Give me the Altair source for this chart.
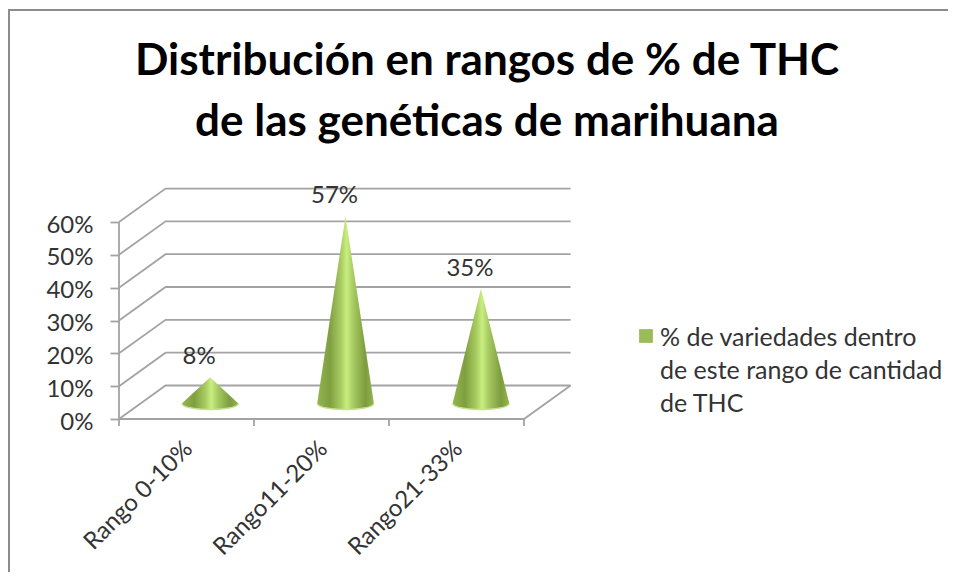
import altair as alt
import pandas as pd

categories = ["Rango 0-10%", "Rango11-20%", "Rango21-33%"]
values = [8, 57, 35]
grid_values = [0, 10, 20, 30, 40, 50, 60]
tick_positions = [0, 1, 2, 3]
title_lines = ["Distribución en rangos de % de THC", "de las genéticas de marihuana"]
legend_text = "% de variedades dentro\nde este rango de cantidad\nde THC"

DEPTH_X, DEPTH_Y = 0.345, 10.2
CONE_X, CONE_Y = 0.175, 4.7
BASE_RX, BASE_RY = 0.21, 1.8
FONT = "Lato"
GREY = "#a3a3a3"
TEXT = "#333333"

xs = alt.Scale(domain=[0, 3.363], nice=False, zero=False)
ys = alt.Scale(domain=[0, 70.36], nice=False, zero=False)

x_axis = alt.Axis(
    values=[0.5, 1.5, 2.5], grid=False, domain=False, ticks=False, title=None,
    labelAngle=-45, labelAlign="right", labelBaseline="middle", labelPadding=26, labelOffset=2,
    labelExpr="['" + "','".join(categories) + "'][floor(datum.value)]",
    labelFont=FONT, labelFontSize=24, labelColor=TEXT, labelOverlap=False, labelBound=False,
    labelFlush=False)
y_axis = alt.Axis(
    values=grid_values, grid=False, domain=False, tickSize=9, tickColor=GREY, tickWidth=1.8, title=None,
    labelPadding=17, labelExpr="datum.value + '%'", labelFont=FONT, labelFontSize=24,
    labelColor=TEXT, labelOffset=3, labelOverlap=False, labelBound=False, labelFlush=False)

rows = []
for v in grid_values:
    rows += [
        dict(g=f"g{v}", o=0, x=0, y=v),
        dict(g=f"g{v}", o=1, x=DEPTH_X, y=v + DEPTH_Y),
        dict(g=f"g{v}", o=2, x=3 + DEPTH_X, y=v + DEPTH_Y),
    ]
rows += [dict(g="axisY", o=0, x=0, y=0), dict(g="axisY", o=1, x=0, y=60)]
rows += [dict(g="front", o=0, x=0, y=0), dict(g="front", o=1, x=3, y=0),
         dict(g="front", o=2, x=3 + DEPTH_X, y=DEPTH_Y)]
box = pd.DataFrame(rows)

ts = [i / 30 - 1 for i in range(61)]
cone_rows, rim_rows = [], []
for i, (c, v) in enumerate(zip(categories, values)):
    cx = i + 0.5 + CONE_X + 0.003 * i
    for t in ts:
        top = CONE_Y + v * (1 - abs(t))
        bot = CONE_Y - BASE_RY * (1 - t * t) ** 0.5
        cone_rows.append(dict(c=c, x=cx + BASE_RX * t, top=max(top, bot), bot=bot))
        rim_rows.append(dict(c=c, x=cx + BASE_RX * t, y=bot))
cones = pd.DataFrame(cone_rows)
rims = pd.DataFrame(rim_rows)
labels = pd.DataFrame({
    "x": [i + 0.5 + CONE_X + 0.003 * i for i in range(3)],
    "y": [v + CONE_Y for v in values],
    "t": [f"{v}%" for v in values],
})

X = lambda f="x": alt.X(f"{f}:Q", scale=xs, axis=x_axis)
Y = lambda f="y": alt.Y(f"{f}:Q", scale=ys, axis=y_axis)

lines = alt.Chart(box).mark_line(color=GREY, strokeWidth=1.8).encode(
    x=X(), y=Y(), detail="g:N", order="o:Q")

xticks = alt.Chart(pd.DataFrame({"x": tick_positions})).mark_rule(color=GREY, strokeWidth=1.8).encode(
    x=X(), y=alt.value(231), y2=alt.value(238))

gradient = alt.Gradient(
    gradient="linear", x1=0, y1=0, x2=1, y2=0,
    stops=[
        alt.GradientStop(offset=0, color="#93b64f"),
        alt.GradientStop(offset=0.22, color="#7f9f3f"),
        alt.GradientStop(offset=0.42, color="#a9cc62"),
        alt.GradientStop(offset=0.52, color="#c9ee80"),
        alt.GradientStop(offset=0.64, color="#a6c961"),
        alt.GradientStop(offset=0.85, color="#7d9c3e"),
        alt.GradientStop(offset=1, color="#93b64f"),
    ],
)
cone_marks = alt.Chart(cones).mark_area(color=gradient, opacity=1, interpolate="linear").encode(
    x=X(), y=Y("top"), y2=alt.Y2("bot"), detail="c:N")
rim_marks = alt.Chart(rims).mark_line(color="#c6e28c", strokeWidth=1.4, interpolate="linear").encode(
    x=X(), y=Y(), detail="c:N", order="x:Q")

value_labels = alt.Chart(labels).mark_text(
    font=FONT, fontSize=24, color=TEXT, baseline="middle", align="center", dx=-11, dy=-20
).encode(x=X(), y=Y(), text="t:N")

legend_symbol = alt.Chart(pd.DataFrame({"k": ["% de variedades"]})).mark_square(
    color="#9bbb59", size=190, opacity=1
).encode(x=alt.value(527), y=alt.value(148))

legend_label = alt.Chart(pd.DataFrame({"t": [legend_text]})).mark_text(
    font=FONT, fontSize=25, color=TEXT, align="left", baseline="middle",
    lineBreak="\n", lineHeight=33,
).encode(x=alt.value(541), y=alt.value(150), text="t:N")

frame_top = alt.Chart(pd.DataFrame({"k": [0]})).mark_rule(color="#8c8c8c", strokeWidth=2).encode(
    x=alt.value(-111), x2=alt.value(829), y=alt.value(-178))
frame_left = alt.Chart(pd.DataFrame({"k": [0]})).mark_rule(color="#8c8c8c", strokeWidth=2).encode(
    x=alt.value(-110), y=alt.value(-178), y2=alt.value(384))

chart = alt.layer(
    frame_top, frame_left, lines, xticks, cone_marks, rim_marks,
    value_labels, legend_symbol, legend_label,
).properties(
    width=454,
    height=231,
    autosize=alt.AutoSizeParams(type="none"),
    padding={"left": 111, "top": 180, "right": 375, "bottom": 154},
    background="white",
    title=alt.TitleParams(
        text=title_lines, font=FONT, fontWeight="bold", fontSize=44, lineHeight=61,
        color="black", anchor="middle", frame="group", dx=141, offset=0, dy=136,
    ),
).configure_view(stroke=None)

chart.save("out.html", embed_options={"renderer": "svg", "actions": False})
